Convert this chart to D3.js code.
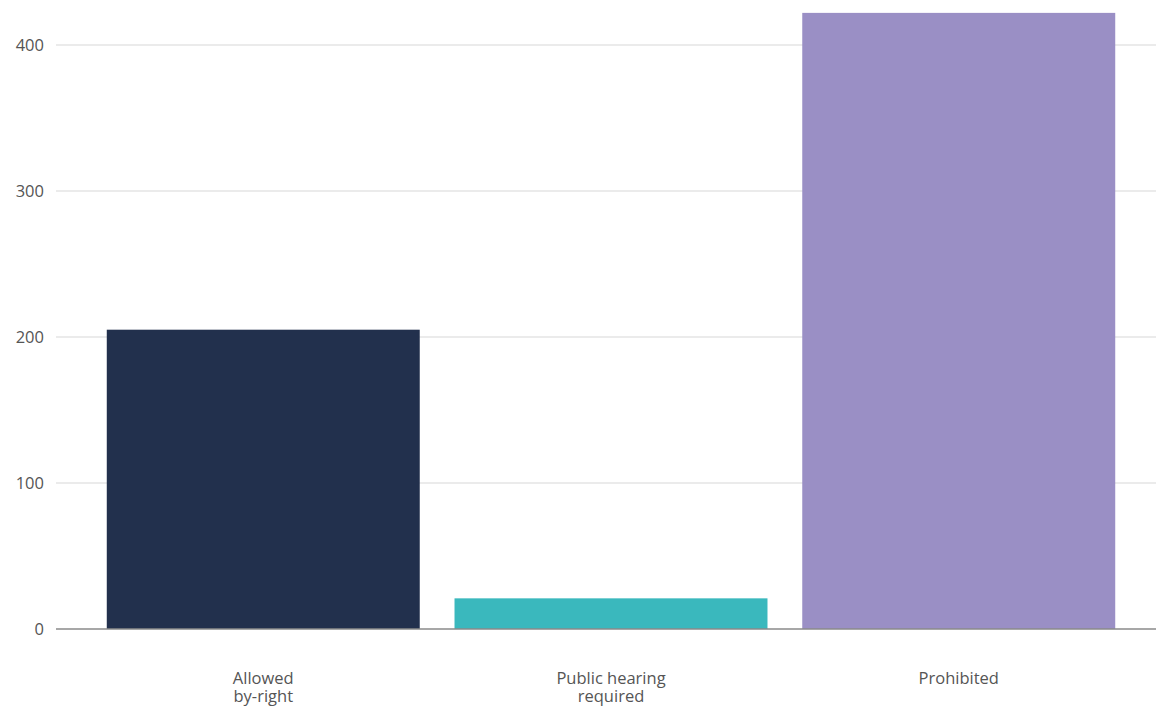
<!DOCTYPE html>
<html>
<head>
<meta charset="utf-8">
<script src="https://cdn.jsdelivr.net/npm/d3@7/dist/d3.min.js"></script>
<style>
  html, body { margin: 0; padding: 0; background: #fff; }
  svg { display: block; font-family: "Open Sans", "Noto Sans", sans-serif; }
</style>
</head>
<body>
<svg id="chart" width="1156" height="708"></svg>
<script>
const categories = ["Allowed\nby-right", "Public hearing\nrequired", "Prohibited"];
const values = [205, 21, 422];
const colors = ["#22304d", "#3ab8bd", "#9a8fc5"];
const yTicks = [0, 100, 200, 300, 400];

const svg = d3.select("#chart");
const W = 1156, H = 708;

const x = d3.scaleBand().domain(categories).range([72, 1150]).paddingInner(0.1).paddingOuter(0.1);
const y = d3.scaleLinear().domain([0, 400]).range([629, 45]);

// gridlines
svg.append("g").selectAll("line").data(yTicks.filter(d => d !== 0)).join("line")
  .attr("x1", 56).attr("x2", W)
  .attr("y1", d => y(d)).attr("y2", d => y(d))
  .attr("stroke", "#e4e4e4").attr("stroke-width", 1.5);

// y tick labels
svg.append("g").selectAll("text").data(yTicks).join("text")
  .attr("x", 44).attr("y", d => y(d)).attr("dy", "0.35em")
  .attr("text-anchor", "end").attr("font-size", 16.5).attr("fill", "#555")
  .text(d => d);

// bars
svg.append("g").selectAll("rect").data(values).join("rect")
  .attr("x", (d, i) => x(categories[i]))
  .attr("width", x.bandwidth())
  .attr("y", d => y(d))
  .attr("height", d => y(0) - y(d))
  .attr("fill", (d, i) => colors[i]);

// baseline
svg.append("line").attr("x1", 56).attr("x2", W).attr("y1", y(0)).attr("y2", y(0))
  .attr("stroke", "#8a8a8a").attr("stroke-width", 1.5);

// category labels
const lab = svg.append("g").selectAll("text").data(categories).join("text")
  .attr("text-anchor", "middle").attr("font-size", 16.5).attr("fill", "#555")
  .attr("transform", d => `translate(${x(d) + x.bandwidth() / 2},684)`);
lab.selectAll("tspan").data(d => d.split("\n")).join("tspan")
  .attr("x", 0).attr("dy", (d, i) => i === 0 ? 0 : 18).text(d => d);
</script>
</body>
</html>
